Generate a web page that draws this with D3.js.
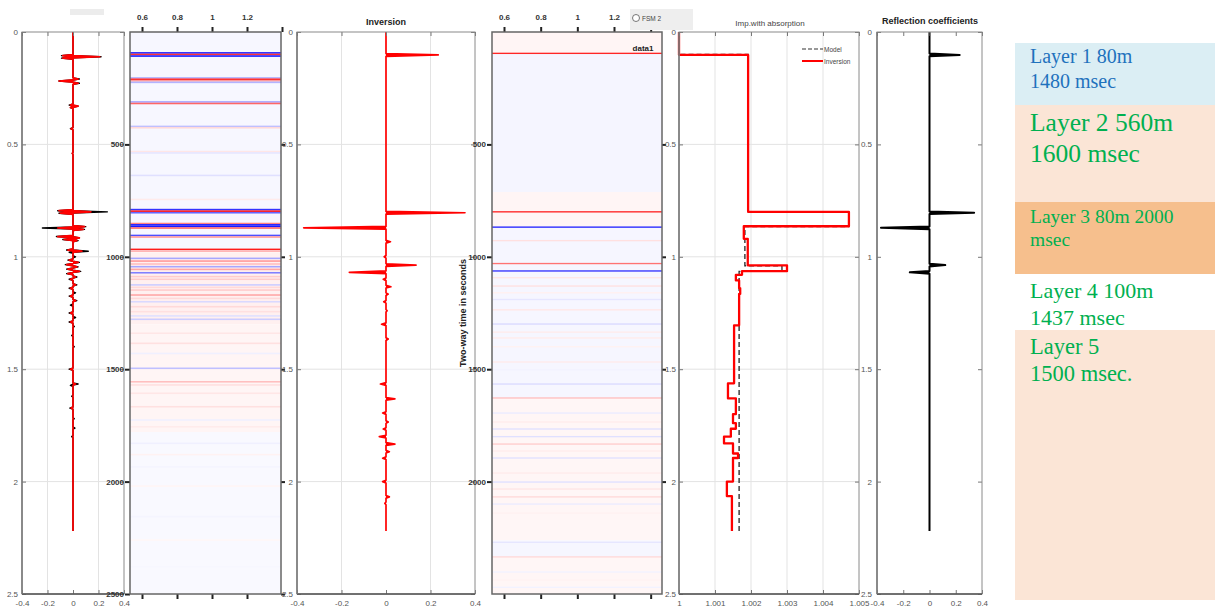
<!DOCTYPE html>
<html>
<head>
<meta charset="utf-8">
<script src="https://cdn.jsdelivr.net/npm/d3@7"></script>
<style>
  body { margin: 0; background: #fff; }
  svg { display: block; font-family: "Liberation Sans", Arial, sans-serif; }
</style>
</head>
<body>
<div id="chart"></div>
<script>
// ---- data (time in seconds) ----
const traceEnd = 2.22;

// panel 1: seismogram (black = observed, red = synthetic), [time, amplitude]
const seisBlack = [
  [0.105, -0.09], [0.11, 0.22], [0.116, -0.09],
  [0.209, 0.05], [0.218, -0.11], [0.228, 0.05],
  [0.325, -0.03], [0.33, 0.04], [0.336, -0.02],
  [0.43, -0.02], [0.54, -0.006],
  [0.795, -0.12], [0.80, 0.27], [0.806, -0.11],
  [0.866, 0.10], [0.872, -0.24], [0.878, 0.09],
  [0.91, -0.13], [0.916, 0.05], [0.923, -0.08], [0.928, 0.04],
  [0.97, -0.05], [0.975, 0.12], [0.98, -0.03],
  [1.0, 0.02], [1.015, -0.04], [1.025, 0.05], [1.035, -0.06], [1.045, 0.04],
  [1.055, -0.05], [1.065, 0.06], [1.075, -0.05], [1.09, 0.03], [1.1, -0.03],
  [1.125, 0.03], [1.14, -0.03], [1.16, 0.02], [1.175, -0.03], [1.195, 0.03],
  [1.215, -0.02], [1.25, -0.03], [1.27, 0.02], [1.29, -0.03], [1.31, 0.01],
  [1.35, -0.01], [1.40, 0.01], [1.5, -0.03], [1.566, 0.04], [1.572, -0.02],
  [1.62, -0.01], [1.673, -0.025], [1.72, 0.01], [1.762, 0.015], [1.80, -0.01]
];
const seisRed = [
  [0.105, -0.08], [0.11, 0.21], [0.116, -0.08],
  [0.209, 0.04], [0.218, -0.11], [0.228, 0.04],
  [0.325, -0.02], [0.33, 0.04], [0.336, -0.02],
  [0.43, -0.015], [0.54, -0.005],
  [0.795, -0.11], [0.80, 0.14], [0.806, -0.10],
  [0.866, 0.09], [0.872, -0.12], [0.878, 0.08],
  [0.91, -0.12], [0.916, 0.05], [0.923, -0.07], [0.928, 0.03],
  [0.97, -0.04], [0.975, 0.07],
  [1.015, -0.03], [1.025, 0.04], [1.035, -0.05], [1.045, 0.03], [1.055, -0.04],
  [1.065, 0.05], [1.075, -0.04], [1.09, 0.02], [1.1, -0.02], [1.125, 0.02],
  [1.14, -0.02], [1.175, -0.02], [1.195, 0.02], [1.25, -0.02], [1.29, -0.02],
  [1.5, -0.02], [1.566, 0.02], [1.673, -0.015]
];

// panel 2: seismic section rows, [time, value] (+ red, - blue)
const sectionRows2 = [
  [0.093, -0.9], [0.100, 0.8], [0.107, -0.9],
  [0.204, -0.3], [0.210, 0.8], [0.217, 0.4], [0.224, -0.3],
  [0.311, -0.35], [0.318, 0.6],
  [0.420, -0.25], [0.426, 0.15],
  [0.532, 0.1], [0.538, -0.1], [0.638, -0.12], [0.745, 0.08],
  [0.790, -0.8], [0.797, 0.9], [0.804, -0.6],
  [0.852, 0.5], [0.858, -0.9], [0.865, -0.9], [0.872, 0.6],
  [0.905, -0.7], [0.912, 0.4],
  [0.967, 0.9], [0.975, 0.3],
  [1.007, -0.35], [1.019, 0.4], [1.032, 0.25], [1.044, -0.35], [1.056, 0.35],
  [1.071, -0.5], [1.088, 0.2], [1.100, 0.2], [1.125, -0.2], [1.136, 0.15],
  [1.148, 0.2], [1.170, 0.35], [1.185, 0.15], [1.200, -0.15], [1.222, 0.15],
  [1.244, 0.12], [1.263, -0.12], [1.278, -0.2], [1.340, 0.1], [1.385, 0.12],
  [1.430, -0.06], [1.496, -0.25], [1.556, 0.25], [1.570, 0.12], [1.607, 0.1],
  [1.667, 0.12], [1.726, -0.06], [1.756, 0.08], [1.830, -0.06], [1.880, 0.05],
  [1.934, -0.04], [2.020, 0.04], [2.156, -0.04], [2.260, 0.03], [2.378, -0.03]
];
// faint washes behind the section rows, [start, end, value]
const section2Bands = [
  [0, 0.98, -0.03], [0.98, 1.30, 0.06], [1.30, 1.78, 0.04], [1.78, 2.5, -0.025]
];

// panel 3: inverted reflectivity, [time, amplitude]
const invSpikes = [
  [0.102, 0.235], [0.804, 0.355], [0.871, -0.37], [0.933, 0.02], [1.0, -0.008],
  [1.037, 0.135], [1.069, -0.165], [1.1, -0.012], [1.133, 0.022], [1.166, 0.01],
  [1.2, -0.01], [1.24, 0.005], [1.30, -0.02], [1.366, 0.01], [1.566, -0.025],
  [1.632, 0.04], [1.695, -0.015], [1.735, 0.01], [1.766, -0.012], [1.80, -0.03],
  [1.833, 0.04], [1.867, 0.015], [1.896, -0.015], [2.0, -0.015], [2.068, 0.015],
  [2.097, -0.005]
];

// panel 4: section rows and background bands
const sectionRows4 = [
  [0.095, 0.85], [0.800, 0.85], [0.868, -0.85], [0.928, 0.12], [1.030, 0.55],
  [1.063, -0.8], [1.093, 0.1], [1.130, 0.12], [1.160, 0.06], [1.190, -0.1],
  [1.236, 0.1], [1.299, -0.15], [1.335, 0.08], [1.361, 0.08], [1.400, 0.05],
  [1.468, 0.08], [1.503, -0.05], [1.566, -0.15], [1.628, 0.25], [1.695, -0.08],
  [1.735, 0.08], [1.766, -0.12], [1.800, -0.12], [1.833, 0.2], [1.864, 0.08],
  [1.895, -0.12], [1.962, 0.08], [2.002, -0.12], [2.033, 0.1], [2.068, 0.15],
  [2.100, -0.08], [2.140, 0.06], [2.270, -0.1], [2.335, 0.15], [2.402, -0.05],
  [2.438, 0.05], [2.470, -0.05]
];
const section4Bands = [
  [0, 0.095, 0.04], [0.095, 0.712, -0.04], [0.712, 0.868, 0.04],
  [0.868, 1.628, -0.035], [1.628, 2.262, 0.035], [2.262, 2.335, -0.035],
  [2.335, 2.5, 0.035]
];

// panel 5: impedance steps, [start time, value]
const impInversion = [
  [0, 1.0], [0.102, 1.00192], [0.80, 1.00472], [0.864, 1.0018], [0.92, 1.00191],
  [1.038, 1.003], [1.064, 1.00175], [1.08, 1.00158], [1.105, 1.00167],
  [1.14, 1.0017], [1.165, 1.00167], [1.305, 1.00153], [1.563, 1.00136],
  [1.63, 1.00158], [1.70, 1.0015], [1.74, 1.00158], [1.765, 1.00144],
  [1.80, 1.00125], [1.83, 1.0015], [1.875, 1.00164], [1.895, 1.0015],
  [2.0, 1.00133], [2.065, 1.00147]
];
const impModel = [
  [0, 1.0], [0.1, 1.00192], [0.80, 1.00472], [0.865, 1.00183],
  [1.04, 1.00286], [1.065, 1.00167]
];

// panel 6: reflection coefficients
const rcSpikes = [[0.102, 0.23], [0.804, 0.34], [0.871, -0.37], [1.037, 0.12], [1.069, -0.15]];

const timeTicks = [0, 0.5, 1, 1.5, 2, 2.5];
const timeLabels = ["0", "0.5", "1", "1.5", "2", "2.5"];
const msLabels = ["0", "500", "1000", "1500", "2000", "2500"];
const ampTicks = [-0.4, -0.2, 0, 0.2, 0.4];
const ampLabels = ["-0.4", "-0.2", "0", "0.2", "0.4"];
const velTicks = [0.6, 0.8, 1, 1.2, 1.4];
const velLabels = ["0.6", "0.8", "1", "1.2", ""];
const impTicks = [1, 1.001, 1.002, 1.003, 1.004, 1.005];
const impLabels = ["1", "1.001", "1.002", "1.003", "1.004", "1.005"];

const layerText = [
  ["Layer 1 80m", "1480 msec"],
  ["Layer 2 560m", "1600 msec"],
  ["Layer 3 80m 2000", "msec"],
  ["Layer 4 100m", "1437 msec"],
  ["Layer 5", "1500 msec."]
];

// ---- drawing ----
const W = 1215, H = 611, yTop = 32, yBot = 594;
const svg = d3.select("#chart").append("svg").attr("width", W).attr("height", H);
svg.append("rect").attr("width", W).attr("height", H).attr("fill", "#fff");

const rowColor = d3.scaleLinear().domain([-1, 0, 1]).range(["#0000ff", "#ffffff", "#ff0000"]);

function panel(x0, x1, xDomain) {
  const x = d3.scaleLinear().domain(xDomain).range([x0, x1]);
  const y = d3.scaleLinear().domain([0, 2.5]).range([yTop, yBot]);
  const g = svg.append("g");
  return { g, x, y, x0, x1 };
}

function grid(p, xs, ys) {
  p.g.append("g").selectAll("line").data(xs).join("line")
    .attr("x1", d => p.x(d)).attr("x2", d => p.x(d)).attr("y1", yTop).attr("y2", yBot)
    .attr("stroke", "#e3e3e3").attr("stroke-width", 1);
  p.g.append("g").selectAll("line").data(ys).join("line")
    .attr("x1", p.x0).attr("x2", p.x1).attr("y1", d => p.y(d)).attr("y2", d => p.y(d))
    .attr("stroke", "#e3e3e3").attr("stroke-width", 1);
}

// MATLAB-style frame: ticks inside, labels left + bottom
function matlabAxes(p, xTicks, xLabels, yPad) {
  const gb = p.g.append("g").attr("transform", `translate(0,${yBot})`)
    .call(d3.axisBottom(p.x).tickValues(xTicks)
      .tickFormat((d, i) => xLabels[i])
      .tickSizeInner(-4).tickSizeOuter(0).tickPadding(6));
  const gt = p.g.append("g").attr("transform", `translate(0,${yTop})`)
    .call(d3.axisTop(p.x).tickValues(xTicks).tickFormat("").tickSizeInner(-4).tickSizeOuter(0));
  const gl = p.g.append("g").attr("transform", `translate(${p.x0},0)`)
    .call(d3.axisLeft(p.y).tickValues(timeTicks).tickFormat((d, i) => timeLabels[i])
      .tickSizeInner(-4).tickSizeOuter(0).tickPadding(yPad));
  const gr = p.g.append("g").attr("transform", `translate(${p.x1},0)`)
    .call(d3.axisRight(p.y).tickValues(timeTicks).tickFormat("").tickSizeInner(-4).tickSizeOuter(0));
  [gb, gt, gl, gr].forEach(a => {
    a.select(".domain").remove();
    a.selectAll(".tick line").attr("stroke", "#777");
    a.selectAll("text").attr("font-size", 8).attr("fill", "#555")
      .attr("font-family", "'Liberation Sans', Arial, sans-serif");
  });
  p.g.append("rect").attr("x", p.x0).attr("y", yTop)
    .attr("width", p.x1 - p.x0).attr("height", yBot - yTop)
    .attr("fill", "none").attr("stroke", "#8a8a8a").attr("stroke-width", 1);
  p.g.append("line").attr("x1", p.x0).attr("x2", p.x1).attr("y1", yBot).attr("y2", yBot)
    .attr("stroke", "#555").attr("stroke-width", 1.5);
  p.g.append("line").attr("x1", p.x0).attr("x2", p.x0).attr("y1", yTop).attr("y2", yBot)
    .attr("stroke", "#777").attr("stroke-width", 1.5);
}

// image-style frame: ticks outside, bold labels top + left
function imageAxes(p, yLabelValues, yLabelText) {
  const gt = p.g.append("g").attr("transform", `translate(0,${yTop})`)
    .call(d3.axisTop(p.x).tickValues(velTicks).tickFormat((d, i) => velLabels[i])
      .tickSizeInner(5).tickSizeOuter(0).tickPadding(7));
  const gb = p.g.append("g").attr("transform", `translate(0,${yBot})`)
    .call(d3.axisBottom(p.x).tickValues(velTicks.filter(v => p.x(v) < p.x1 - 2)).tickFormat("")
      .tickSizeInner(5).tickSizeOuter(0));
  const gl = p.g.append("g").attr("transform", `translate(${p.x0},0)`)
    .call(d3.axisLeft(p.y).tickValues(yLabelValues).tickFormat((d, i) => yLabelText[i])
      .tickSizeInner(5).tickSizeOuter(0).tickPadding(1));
  const gr = p.g.append("g").attr("transform", `translate(${p.x1},0)`)
    .call(d3.axisRight(p.y).tickValues(yLabelValues).tickFormat("").tickSizeInner(4).tickSizeOuter(0));
  [gt, gb, gl, gr].forEach(a => {
    a.select(".domain").remove();
    a.selectAll(".tick line").attr("stroke", "#222").attr("stroke-width", 2);
    a.selectAll("text").attr("font-size", 8).attr("font-weight", "bold").attr("fill", "#333")
      .attr("font-family", "'Liberation Sans', Arial, sans-serif");
  });
  p.g.append("rect").attr("x", p.x0).attr("y", yTop)
    .attr("width", p.x1 - p.x0).attr("height", yBot - yTop)
    .attr("fill", "none").attr("stroke", "#666").attr("stroke-width", 1.5);
}

// trace built from spikes: zero line with wedge at each spike
function spikePoints(spikes, dt) {
  const pts = [[0, 0]];
  spikes.slice().sort((a, b) => a[0] - b[0]).forEach(([t, a]) => {
    pts.push([0, t - dt], [a, t], [0, t + dt]);
  });
  pts.push([0, traceEnd]);
  return pts;
}
function drawTrace(p, spikes, dt, color, width) {
  const line = d3.line().x(d => p.x(d[0])).y(d => p.y(d[1]));
  p.g.append("path").datum(spikePoints(spikes, dt)).attr("d", line)
    .attr("fill", color).attr("stroke", color).attr("stroke-width", width)
    .attr("stroke-linejoin", "round");
}

function stepPoints(steps) {
  const pts = [];
  steps.forEach(([t, v], i) => {
    const tEnd = i + 1 < steps.length ? steps[i + 1][0] : traceEnd;
    pts.push([v, t], [v, tEnd]);
  });
  return pts;
}

function drawBands(p, bands) {
  p.g.append("g").selectAll("rect").data(bands).join("rect")
    .attr("x", p.x0).attr("width", p.x1 - p.x0)
    .attr("y", d => p.y(d[0])).attr("height", d => p.y(d[1]) - p.y(d[0]))
    .attr("fill", d => rowColor(d[2]));
}

function drawRows(p, rows, h) {
  p.g.append("g").selectAll("rect").data(rows).join("rect")
    .attr("x", p.x0).attr("width", p.x1 - p.x0)
    .attr("y", d => p.y(d[0] - h / 2)).attr("height", d => p.y(h) - p.y(0))
    .attr("fill", d => rowColor(d[1]));
}

// panel 1 — seismogram
const p1 = panel(22, 124, [-0.4, 0.4]);
grid(p1, [-0.2, 0.2], [0.5, 1, 1.5, 2]);
drawTrace(p1, seisBlack, 0.005, "#000", 1.4);
drawTrace(p1, seisRed, 0.005, "#ff0000", 1.7);
matlabAxes(p1, ampTicks, ampLabels, 4);
svg.append("rect").attr("x", 70).attr("y", 9).attr("width", 34).attr("height", 6).attr("fill", "#ececec");

// panel 2 — section
const p2 = panel(130, 281, [0.6 - 12 / 175, 0.6 + 139 / 175]);
drawBands(p2, section2Bands);
drawRows(p2, sectionRows2, 0.007);
imageAxes(p2, [0.5, 1, 1.5, 2, 2.5], msLabels.slice(1));

// panel 3 — inversion
const p3 = panel(297, 475, [-0.4, 0.4]);
grid(p3, [-0.2, 0.2], [0.5, 1, 1.5, 2]);
drawTrace(p3, invSpikes, 0.006, "#ff0000", 1.7);
matlabAxes(p3, ampTicks, ampLabels, 4);
p3.g.append("text").attr("x", p3.x(0)).attr("y", 25).attr("text-anchor", "middle")
  .attr("font-size", 9).attr("font-weight", "bold").attr("fill", "#222").text("Inversion");

// panel 4 — section with bands
const p4 = panel(492, 662, [0.6 - 12 / 183.3, 1.2 + 48 / 183.3]);
drawBands(p4, section4Bands);
drawRows(p4, sectionRows4, 0.006);
imageAxes(p4, [0.5, 1, 1.5, 2], msLabels.slice(1, 5));
p4.g.append("text").attr("x", 643).attr("y", 51).attr("text-anchor", "middle")
  .attr("font-size", 8).attr("font-weight", "bold").attr("fill", "#222").text("data1");
svg.append("text").attr("transform", "translate(466,313) rotate(-90)")
  .attr("text-anchor", "middle").attr("font-size", 9).attr("font-weight", "bold")
  .attr("fill", "#222").text("Two-way time in seconds");
// floating "FSM 2" toggle
svg.append("rect").attr("x", 630).attr("y", 9).attr("width", 63).attr("height", 21).attr("fill", "#eeeeee");
svg.append("circle").attr("cx", 636).attr("cy", 18).attr("r", 3.5)
  .attr("fill", "#fff").attr("stroke", "#555").attr("stroke-width", 0.8);
svg.append("text").attr("x", 642).attr("y", 20.5).attr("font-size", 6.5).attr("fill", "#444").text("FSM 2");

// panel 5 — impedance
const p5 = panel(679, 859, [1, 1.005]);
grid(p5, [1.001, 1.002, 1.003, 1.004], [0.5, 1, 1.5, 2]);
const stepLine = d3.line().x(d => p5.x(d[0])).y(d => p5.y(d[1]));
p5.g.append("path").datum(stepPoints(impModel)).attr("d", stepLine)
  .attr("fill", "none").attr("stroke", "#333").attr("stroke-width", 1.4).attr("stroke-dasharray", "5,3");
p5.g.append("path").datum(stepPoints(impInversion)).attr("d", stepLine)
  .attr("fill", "none").attr("stroke", "#ff0000").attr("stroke-width", 2.3)
  .attr("stroke-linejoin", "round");
matlabAxes(p5, impTicks, impLabels, 3);
p5.g.append("text").attr("x", 770).attr("y", 26).attr("text-anchor", "middle")
  .attr("font-size", 8).attr("fill", "#444").text("Imp.with absorption");
const leg = p5.g.append("g");
leg.append("line").attr("x1", 802).attr("x2", 823).attr("y1", 49).attr("y2", 49)
  .attr("stroke", "#333").attr("stroke-width", 1.2).attr("stroke-dasharray", "4,2");
leg.append("line").attr("x1", 802).attr("x2", 823).attr("y1", 61).attr("y2", 61)
  .attr("stroke", "#ff0000").attr("stroke-width", 2);
leg.append("text").attr("x", 824).attr("y", 51.5).attr("font-size", 6.5).attr("fill", "#444").text("Model");
leg.append("text").attr("x", 824).attr("y", 63.5).attr("font-size", 6.5).attr("fill", "#444").text("Inversion");

// panel 6 — reflection coefficients
const p6 = panel(877, 982, [-0.4, 0.4]);
drawTrace(p6, rcSpikes, 0.006, "#000", 2);
matlabAxes(p6, ampTicks, ampLabels, 5);
p6.g.append("text").attr("x", 930).attr("y", 24).attr("text-anchor", "middle")
  .attr("font-size", 9).attr("font-weight", "bold").attr("fill", "#222").text("Reflection coefficients");

// layer annotation boxes
const boxes = [
  { y0: 43, y1: 105, fill: "#dbeef4", color: "#1f72bd", size: 20, base: [63, 88] },
  { y0: 105, y1: 202, fill: "#fbe5d6", color: "#00b050", size: 25.5, base: [131, 162] },
  { y0: 202, y1: 274, fill: "#f6bf8d", color: "#00b050", size: 19.5, base: [223, 246] },
  { y0: 274, y1: 330, fill: "#ffffff", color: "#00b050", size: 22, base: [298, 325] },
  { y0: 330, y1: 600, fill: "#fbe5d6", color: "#00b050", size: 22.5, base: [354, 381] }
];
boxes.forEach((b, i) => {
  svg.append("rect").attr("x", 1015).attr("y", b.y0).attr("width", 200).attr("height", b.y1 - b.y0)
    .attr("fill", b.fill);
  layerText[i].forEach((s, j) => {
    svg.append("text").attr("x", 1030).attr("y", b.base[j])
      .style("font-family", "'Liberation Serif', 'Times New Roman', serif")
      .attr("font-size", b.size).attr("fill", b.color).text(s);
  });
});
</script>
</body>
</html>
